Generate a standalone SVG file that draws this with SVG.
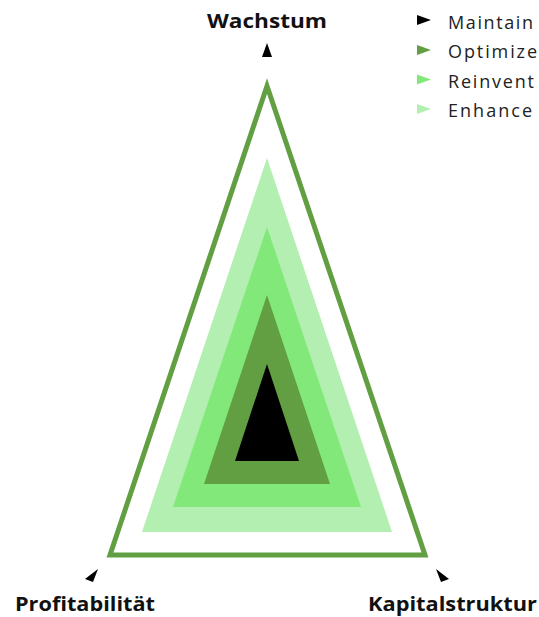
<svg xmlns="http://www.w3.org/2000/svg" width="539" height="617" viewBox="0 0 539 617">
<style>
.lbl{font-family:"Open Sans",Lato,"Liberation Sans",sans-serif;font-weight:700;font-size:20px;fill:#111}
.bot{font-size:19px}
.leg{font-family:"Open Sans",Lato,"Liberation Sans",sans-serif;font-size:18px;fill:#222}
.c0{fill:#000000}.c1{fill:#629f43}.c2{fill:#82e87a}.c3{fill:#b3efb0}
</style>
<rect width="539" height="617" fill="#ffffff"/>
<g id="axes">
<polygon points="267,43 262,57 272,57" fill="#000"/>
<polygon points="98,569 85,579 93,582" fill="#000"/>
<polygon points="436,569 449,579 441,582" fill="#000"/>
</g>
<g id="outer">
<polygon points="267,86 110,555 425,555" fill="none" stroke="#629f43" stroke-width="5" stroke-linejoin="miter"/>
</g>
<g id="enhance"><polygon class="c3" points="267,158 142,532 392,532"/></g>
<g id="reinvent"><polygon class="c2" points="267,227 173,507 361,507"/></g>
<g id="optimize"><polygon class="c1" points="267,295 204,484 330,484"/></g>
<g id="maintain"><polygon class="c0" points="267,364 235,461 299,461"/></g>
<g id="labels">
<text class="lbl" x="207" y="28" textLength="120" lengthAdjust="spacingAndGlyphs">Wachstum</text>
<text class="lbl bot" x="15" y="611" textLength="140" lengthAdjust="spacingAndGlyphs">Profitabilität</text>
<text class="lbl bot" x="368" y="611" textLength="169" lengthAdjust="spacingAndGlyphs">Kapitalstruktur</text>
</g>
<g id="legend">
<polygon class="c0" points="417,15 431,20 417,25"/>
<text class="leg" x="448" y="28.5" textLength="85" lengthAdjust="spacing">Maintain</text>
<polygon class="c1" points="417,45 431,50 417,55"/>
<text class="leg" x="448" y="58" textLength="89" lengthAdjust="spacing">Optimize</text>
<polygon class="c2" points="417,74.5 431,79.5 417,84.5"/>
<text class="leg" x="448" y="87.5" textLength="86" lengthAdjust="spacing">Reinvent</text>
<polygon class="c3" points="417,104 431,109 417,114"/>
<text class="leg" x="448" y="117" textLength="84" lengthAdjust="spacing">Enhance</text>
</g>
</svg>
